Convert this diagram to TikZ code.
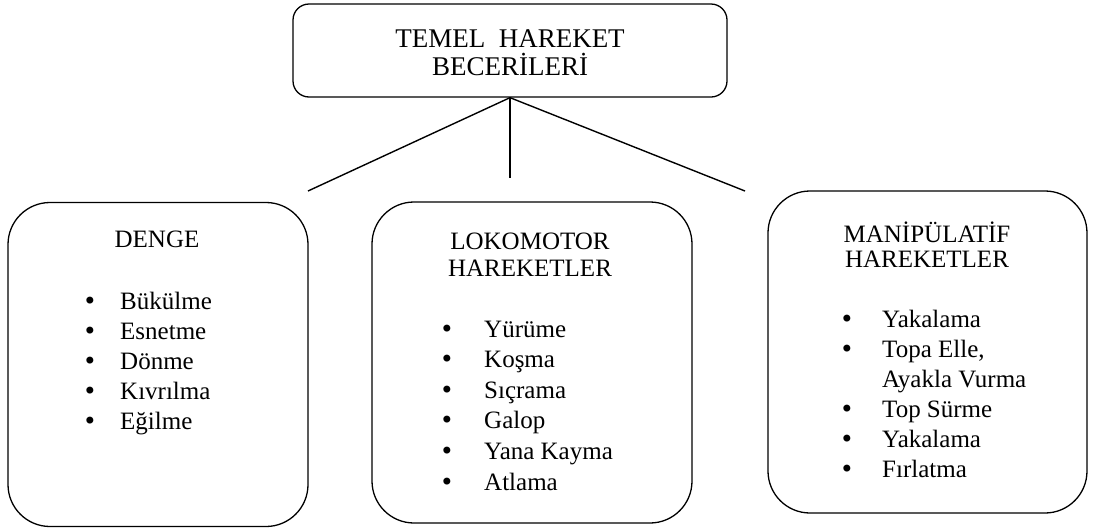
\documentclass[tikz,border=0pt]{standalone}
\usepackage{fontspec}
\setmainfont{Liberation Serif}
\newfontfamily\bulfont{DejaVu Sans}
\begin{document}
\begin{tikzpicture}[x=1pt,y=-1pt,
  box/.style={draw=black, line width=1.3pt, rounded corners=42pt, inner sep=0pt},
  topbox/.style={draw=black, line width=1.3pt, rounded corners=16pt, inner sep=0pt},
  link/.style={draw=black, line width=1.4pt},
  ttltxt/.style={inner sep=0pt, anchor=base, font=\fontsize{27}{30}\selectfont},
  headtxt/.style={inner sep=0pt, anchor=base, font=\fontsize{25}{30}\selectfont},
  itemtxt/.style={inner sep=0pt, anchor=base west, font=\fontsize{25}{30}\selectfont},
  bul/.style={inner sep=0pt, anchor=base, font=\bulfont\fontsize{24}{24}\selectfont}]
\useasboundingbox (0,0) rectangle (1096,528);

% boxes
\node[topbox, minimum width=434pt, minimum height=93pt] (top) at (510,50.5) {};
\node[box, minimum width=300pt, minimum height=324pt] (left) at (158,364.5) {};
\node[box, minimum width=320pt, minimum height=321pt] (mid) at (532,362.5) {};
\node[box, minimum width=319pt, minimum height=322pt] (right) at (927.5,352) {};

% connectors
\coordinate (lend) at (308,191);
\coordinate (mend) at (510,178);
\coordinate (rend) at (745,191);
\draw[link] (top.south) -- (lend);
\draw[link] (top.south) -- (mend);
\draw[link] (top.south) -- (rend);

% title
\node[ttltxt] (t1) at (510,47) {TEMEL\ \ HAREKET};
\node[ttltxt] (t2) at (510,75) {BECERİLERİ};

% left
\node[headtxt] (lh) at (157,247) {DENGE};
\foreach \t [count=\i] in {Bükülme,Esnetme,Dönme,Kıvrılma,Eğilme}{
  \node[bul] (lb\i) at (90,{309+30*(\i-1)}) {•};
  \node[itemtxt] (li\i) at (120,{309+30*(\i-1)}) {\t};
}

% middle
\node[headtxt] (mh1) at (530,249.5) {LOKOMOTOR};
\node[headtxt] (mh2) at (530,276.5) {HAREKETLER};
\foreach \t [count=\i] in {Yürüme,Koşma,Sıçrama,Galop,Yana Kayma,Atlama}{
  \node[bul] (mb\i) at (447,{337+30.6*(\i-1)}) {•};
  \node[itemtxt] (mi\i) at (484,{337+30.6*(\i-1)}) {\t};
}

% right
\node[headtxt] (rh1) at (927,242) {MANİPÜLATİF};
\node[headtxt] (rh2) at (927,267.5) {HAREKETLER};
\node[bul] (rb1) at (847,327) {•};
\node[itemtxt] (ri1) at (882,327) {Yakalama};
\node[bul] (rb2) at (847,357) {•};
\node[itemtxt] (ri2) at (882,357) {Topa Elle,};
\node[itemtxt] (ri3) at (882,387) {Ayakla Vurma};
\node[bul] (rb4) at (847,417) {•};
\node[itemtxt] (ri4) at (882,417) {Top Sürme};
\node[bul] (rb5) at (847,447) {•};
\node[itemtxt] (ri5) at (882,447) {Yakalama};
\node[bul] (rb6) at (847,477) {•};
\node[itemtxt] (ri6) at (882,477) {Fırlatma};
\end{tikzpicture}
\end{document}
